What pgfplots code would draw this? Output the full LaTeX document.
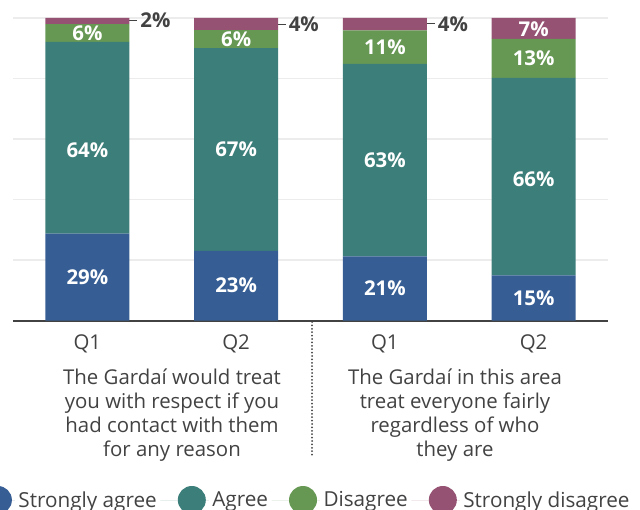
\documentclass[border=0pt]{standalone}
\usepackage{pgfplots}
\usepackage{pgfplotstable}
\pgfplotsset{compat=1.18}
\usepackage{fontspec}
\setmainfont{Open Sans}

\definecolor{sagree}{RGB}{54,94,148}
\definecolor{agree}{RGB}{60,126,121}
\definecolor{disagree}{RGB}{102,152,84}
\definecolor{sdisagree}{RGB}{149,82,115}
\definecolor{txt}{RGB}{66,66,66}
\definecolor{gridc}{RGB}{236,236,236}

% heights as drawn (each bar scaled to 100), labels as printed
% ao = small vertical nudge (pt) of the Agree label
% sdi = Strongly disagree label shown inside the bar (0 = labelled outside)
\pgfplotstableread{
x  sa   sal a    al ao    d    dl sd  sdi
0  28.7 29  63.4 64 -12.5 5.9  6  2.0 0
1  23.0 23  67.0 67 0     6.0  6  4.0 0
2  21.2 21  63.6 63 0     11.1 11 4.1 0
3  14.9 15  65.3 66 -3    12.9 13 6.9 7
}\data

\newcommand{\lbl}{\fontsize{20.4}{24}\selectfont}
\newcommand{\lgd}{\fontsize{20.7}{24}\selectfont}

\begin{document}
\begin{tikzpicture}
\useasboundingbox (0,0) rectangle (640pt,509pt);
\clip (0,0) rectangle (640pt,509pt);
\begin{axis}[
 at={(13pt,188.5pt)}, anchor=south west,
 scale only axis, width=595pt, height=302.5pt,
 ybar stacked, bar width=84pt,
 xmin=-0.5, xmax=3.5, ymin=0, ymax=100,
 axis x line*=bottom, axis y line*=left,
 y axis line style={draw=none},
 x axis line style={txt, line width=2pt},
 ytick={0,20,...,100}, yticklabels={},
 ymajorgrids, grid style={gridc, line width=1.5pt},
 major tick length=0pt,
 xtick=data, xticklabels={Q1,Q2,Q1,Q2},
 xticklabel style={font=\lbl, text=txt, inner sep=0pt, anchor=north, yshift=-14.5pt},
 point meta=explicit symbolic,
 nodes near coords style={font=\bfseries\lbl, text=white, anchor=center},
 legend columns=4,
 legend cell align=left,
 legend image code/.code={\fill[#1] (0pt,0pt) circle (14pt); \path (-31.5pt,0pt) -- (17pt,0pt);},
 legend style={at={(0,0)}, anchor=west, xshift=-46.8pt, yshift=-179.5pt,
   draw=none, fill=none, inner sep=0pt, font=\lgd, text=txt,
   nodes={inner xsep=3.5pt, inner ysep=0pt}},
 clip=false,
]
\addplot[fill=sagree, draw=none, nodes near coords={\pgfplotspointmeta\%}]
  table[x=x, y=sa, meta=sal] {\data};
\addlegendentry{Strongly agree}
\addplot[fill=agree, draw=none, visualization depends on={\thisrow{ao} \as \nudge},
  nodes near coords={\pgfplotspointmeta\%},
  every node near coord/.append style={yshift={\nudge pt}}]
  table[x=x, y=a, meta=al] {\data};
\addlegendentry{Agree}
\addplot[fill=disagree, draw=none, nodes near coords={\pgfplotspointmeta\%}]
  table[x=x, y=d, meta=dl] {\data};
\addlegendentry{Disagree}
\addplot[fill=sdisagree, draw=none,
  nodes near coords={\ifnum\pgfplotspointmeta>0 \pgfplotspointmeta\%\fi},
  every node near coord/.append style={yshift=-1pt}]
  table[x=x, y=sd, meta=sdi] {\data};
\addlegendentry{Strongly disagree}

% small segments labelled beside the bar
\draw[txt, line width=1pt] (axis cs:0.282,99.2) -- (axis cs:0.336,99.2)
  node[anchor=west, inner sep=2.5pt, text=txt, font=\bfseries\lbl] {2\%};
\draw[txt, line width=1pt] (axis cs:1.282,97.9) -- (axis cs:1.334,97.9)
  node[anchor=west, inner sep=2.5pt, text=txt, font=\bfseries\lbl] {4\%};
\draw[txt, line width=1pt] (axis cs:2.282,98.1) -- (axis cs:2.336,98.1)
  node[anchor=west, inner sep=2.5pt, text=txt, font=\bfseries\lbl] {4\%};
\end{axis}

% group separator and group captions
\draw[txt, line width=2pt, line cap=round, dash pattern=on 0pt off 3.4pt]
  (312pt,187pt) -- (312pt,53pt);
\node[anchor=north, align=center, font=\lbl, text=txt, inner sep=0pt]
  at (172pt,140.5pt) {The Gardaí would treat\\you with respect if you\\had contact with them\\for any reason};
\node[anchor=north, align=center, font=\lbl, text=txt, inner sep=0pt]
  at (455pt,140.5pt) {The Gardaí in this area\\treat everyone fairly\\regardless of who\\they are};
\end{tikzpicture}
\end{document}
